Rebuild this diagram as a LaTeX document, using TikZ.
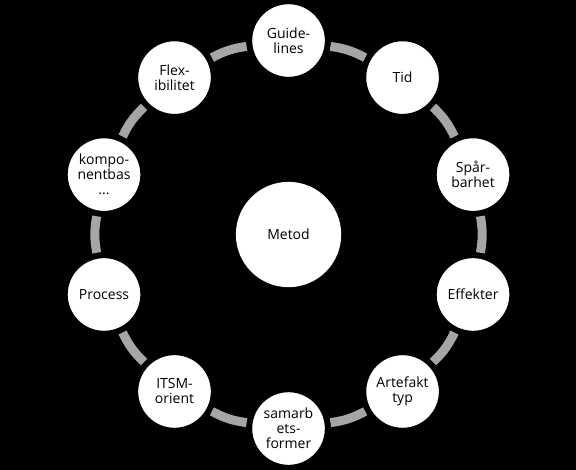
\documentclass[tikz,border=0pt]{standalone}
\usepackage{fontspec}
\setmainfont{Open Sans}
\usetikzlibrary{positioning}
\definecolor{ringgray}{HTML}{A6A6A6}

\begin{document}
\begin{tikzpicture}[
    font=\fontsize{10.5}{11.25}\selectfont,
    topic/.style={circle, draw=black, line width=4.5pt, fill=white, minimum size=59pt, inner sep=0pt, align=center},
    core/.style={circle, fill=white, minimum size=79pt, inner sep=0pt, align=center},
    ring/.style={draw=ringgray, line width=6.75pt}
]

% Bakgrund
\fill[black] (-216.4pt,-176.6pt) rectangle (215.6pt,175.9pt);
\useasboundingbox (-216.4pt,-176.6pt) rectangle (215.6pt,175.9pt);

% Mitten
\node[core] (metod) at (0,0) {Metod};

% Ringen av egenskaper
\node[topic] (guide) at (90:145.5pt) {Guide-\\lines};
\node[topic] (tid) at (54:145.5pt) {Tid};
\node[topic] (spar) at (18:145.5pt) {Spår-\\barhet};
\node[topic] (effekt) at (-18:145.5pt) {Effekter};
\node[topic] (artefakt) at (-54:145.5pt) {Artefakt\\typ};
\node[topic] (samarb) at (-90:145.5pt) {samarb\\ets-\\former};
\node[topic] (itsm) at (-126:145.5pt) {ITSM-\\orient};
\node[topic] (process) at (-162:145.5pt) {Process};
\node[topic] (komp) at (162:145.5pt) {kompo-\\nentbas\\...};
\node[topic] (flex) at (126:145.5pt) {Flex-\\ibilitet};

% Kopplingar
\path[ring] (guide) to[bend left=10] (tid);
\path[ring] (tid) to[bend left=10] (spar);
\path[ring] (spar) to[bend left=10] (effekt);
\path[ring] (effekt) to[bend left=10] (artefakt);
\path[ring] (artefakt) to[bend left=10] (samarb);
\path[ring] (samarb) to[bend left=10] (itsm);
\path[ring] (itsm) to[bend left=10] (process);
\path[ring] (process) to[bend left=10] (komp);
\path[ring] (komp) to[bend left=10] (flex);
\path[ring] (flex) to[bend left=10] (guide);

\end{tikzpicture}
\end{document}
